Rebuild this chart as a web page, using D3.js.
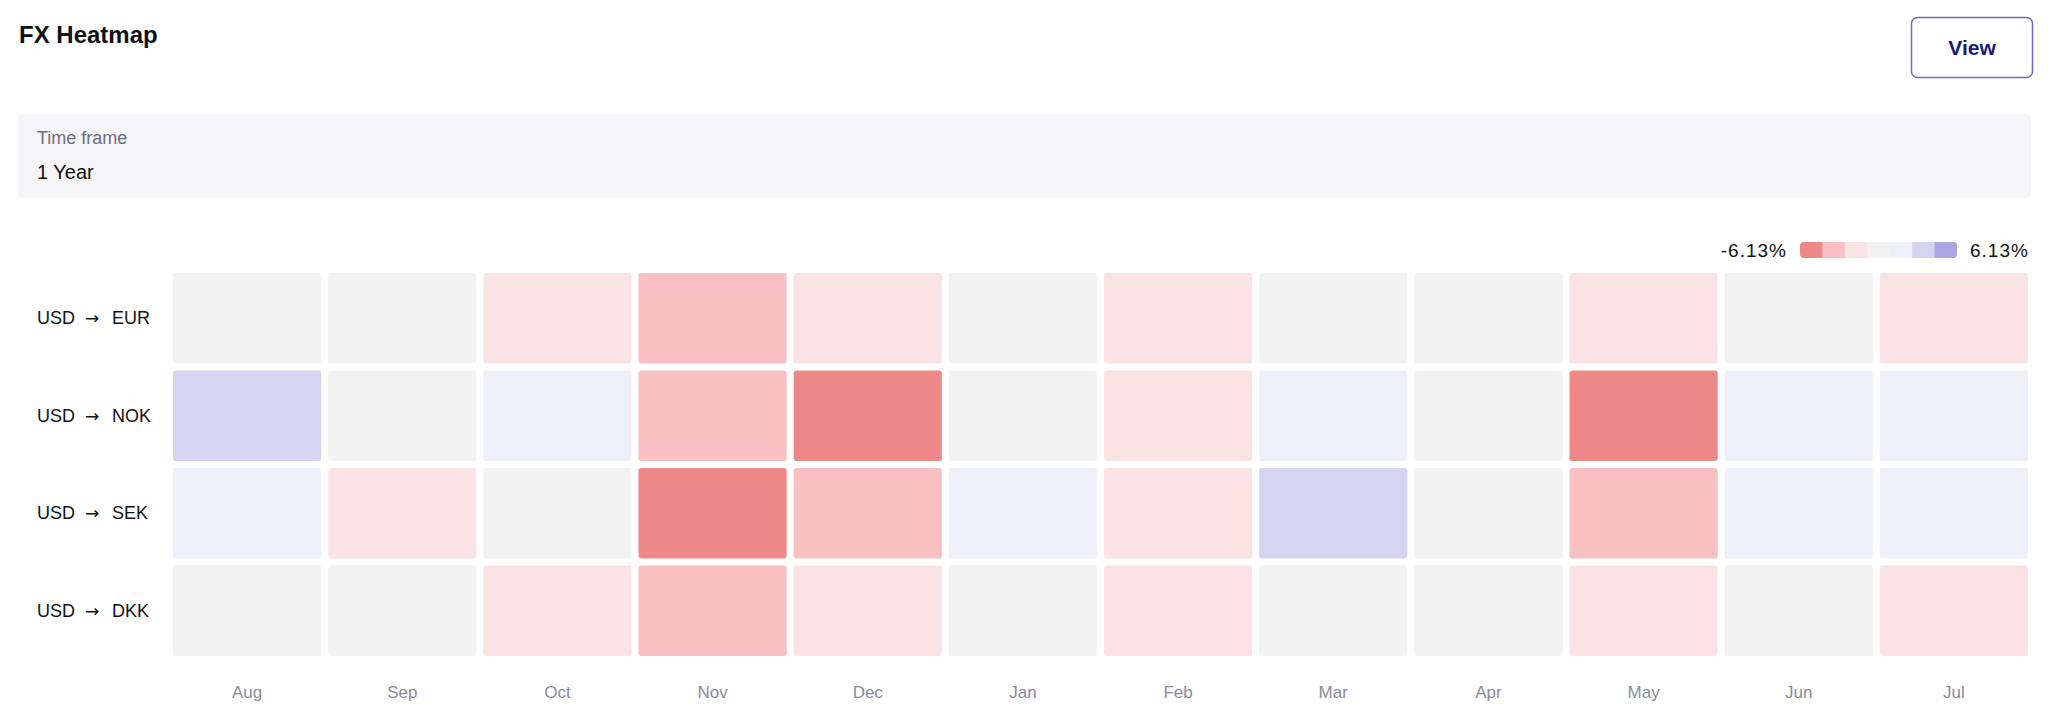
<!DOCTYPE html>
<html>
<head>
<meta charset="utf-8">
<script src="https://cdn.jsdelivr.net/npm/d3@7"></script>
<style>
  html, body { margin: 0; padding: 0; background: #ffffff; }
  svg { display: block; font-family: "Liberation Sans", Arial, Helvetica, sans-serif; }
</style>
</head>
<body>
<svg id="chart" width="2048" height="728"></svg>
<script>
// ---- data ----
const months = ["Aug","Sep","Oct","Nov","Dec","Jan","Feb","Mar","Apr","May","Jun","Jul"];
const pairs = ["USD → EUR","USD → NOK","USD → SEK","USD → DKK"];
const valuesEUR = [0.3, -0.5, -1.6, -3.1, -1.9, 0.4, -1.2, 0.6, -0.2, -1.5, 0.5, -1.3];
const valuesNOK = [3.2, -0.4, 1.5, -3.6, -6.13, -0.6, -1.8, 1.4, 0.2, -5.2, 1.3, 1.6];
const valuesSEK = [1.7, -1.4, 0.3, -5.4, -3.3, 1.2, -1.6, 3.4, -0.3, -3.0, 1.1, 1.5];
const valuesDKK = [0.3, -0.5, -1.6, -3.0, -1.9, 0.4, -1.1, 0.6, -0.2, -1.5, 0.5, -1.3];
const legendMin = -6.13, legendMax = 6.13;
const palette = ["#ee8888","#f8c0c0","#fbe3e3","#f2f2f2","#efeff9","#d5d3f0","#a9a6e0"];

const rows = [valuesEUR, valuesNOK, valuesSEK, valuesDKK];
const cells = [];
rows.forEach((vals, r) => vals.forEach((v, c) => cells.push({pair: pairs[r], month: months[c], value: v})));

const svg = d3.select("#chart");
const font = '"Liberation Sans", Arial, Helvetica, sans-serif';

// ---- header ----
svg.append("text").attr("x", 19).attr("y", 43)
  .attr("font-size", 24).attr("font-weight", 700).attr("fill", "#111111")
  .text("FX Heatmap");

const btn = svg.append("g");
btn.append("rect").attr("x", 1911.5).attr("y", 17.5).attr("width", 121).attr("height", 60)
  .attr("rx", 6).attr("fill", "#ffffff").attr("stroke", "#6f6bbf").attr("stroke-width", 1.5);
btn.append("text").attr("x", 1972).attr("y", 55).attr("text-anchor", "middle")
  .attr("font-size", 21).attr("font-weight", 700).attr("fill", "#17177a").text("View");

// ---- time frame box ----
svg.append("rect").attr("x", 18).attr("y", 114).attr("width", 2013).attr("height", 84)
  .attr("rx", 4).attr("fill", "#f5f5f7");
svg.append("text").attr("x", 37).attr("y", 144).attr("font-size", 18).attr("fill", "#6c6c80").text("Time frame");
svg.append("text").attr("x", 37).attr("y", 179).attr("font-size", 20).attr("fill", "#111111").text("1 Year");

// ---- scales ----
const x = d3.scaleBand().domain(months).range([173, 2035]).paddingInner(0).paddingOuter(0);
const y = d3.scaleBand().domain(pairs).range([273, 663]).paddingInner(0).paddingOuter(0);
const gap = 7;
const color = d3.scaleQuantize().domain([legendMin, legendMax]).range(palette);

// ---- cells ----
svg.append("g").selectAll("rect").data(cells).join("rect")
  .attr("x", d => x(d.month))
  .attr("y", d => y(d.pair))
  .attr("width", x.bandwidth() - gap)
  .attr("height", y.bandwidth() - gap)
  .attr("rx", 3)
  .attr("fill", d => color(d.value));

// ---- row labels ----
const labels = svg.append("g").selectAll("text").data(pairs).join("text")
  .attr("x", 37)
  .attr("y", d => y(d) + (y.bandwidth() - gap) / 2 + 6)
  .attr("font-size", 18).attr("fill", "#111111");
labels.append("tspan").text(d => d.split(" → ")[0]);
labels.append("tspan").attr("x", 85).attr("font-family", '"DejaVu Sans", sans-serif')
  .attr("font-size", 17).text("→");
labels.append("tspan").attr("x", 112).text(d => d.split(" → ")[1]);

// ---- x axis ----
const xAxis = d3.axisBottom(x).tickSize(0).tickPadding(0);
const gx = svg.append("g").attr("transform", "translate(" + (-gap / 2) + ",686)").call(xAxis);
gx.select(".domain").remove();
gx.selectAll("text").attr("font-size", 17).attr("font-family", font)
  .attr("fill", "#8a8a9c").attr("font-weight", 300).attr("dy", "0.71em");

// ---- legend ----
const legX = 1800, legY = 242, legW = 157, legH = 16;
const lx = d3.scaleBand().domain(d3.range(palette.length)).range([legX, legX + legW]);
svg.append("clipPath").attr("id", "legclip").append("rect")
  .attr("x", legX).attr("y", legY).attr("width", legW).attr("height", legH).attr("rx", 4);
svg.append("g").attr("clip-path", "url(#legclip)").selectAll("rect").data(palette).join("rect")
  .attr("x", (d, i) => lx(i)).attr("y", legY)
  .attr("width", lx.bandwidth() + 0.5).attr("height", legH).attr("fill", d => d);
svg.append("text").attr("x", 1787).attr("y", 257).attr("text-anchor", "end")
  .attr("font-size", 19).attr("letter-spacing", "1px").attr("fill", "#111111")
  .text(legendMin.toFixed(2) + "%");
svg.append("text").attr("x", 1970).attr("y", 257)
  .attr("font-size", 19).attr("letter-spacing", "1px").attr("fill", "#111111")
  .text(legendMax.toFixed(2) + "%");
</script>
</body>
</html>
